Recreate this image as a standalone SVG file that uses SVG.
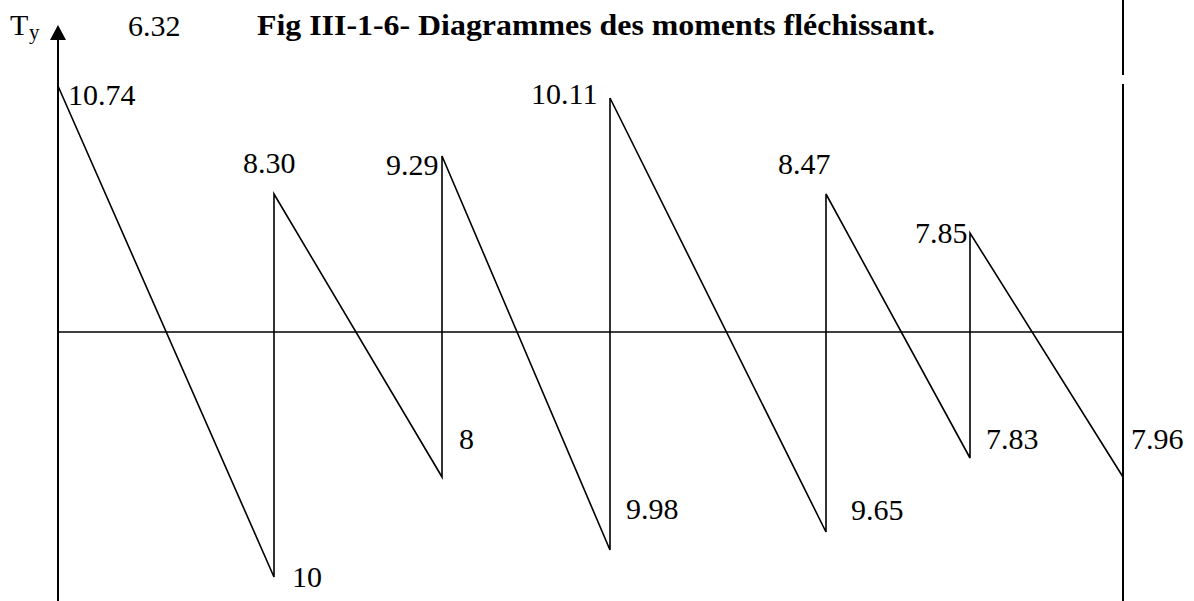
<svg xmlns="http://www.w3.org/2000/svg" width="1194" height="601" viewBox="0 0 1194 601">
<style>
.t{font-family:"Liberation Serif","Times New Roman",serif;font-size:30px;fill:#000}
.b{font-weight:bold}
.ax{stroke:#000;stroke-width:2;fill:none}
.ln{stroke:#000;stroke-width:1.6;fill:none;stroke-linejoin:miter}
</style>
<rect width="1194" height="601" fill="#fff"/>
<g id="axes">
<line class="ax" x1="58" y1="38" x2="58" y2="601"/>
<polygon points="58,25 50,40 66,40" fill="#000"/>
<line class="ln" x1="58" y1="332" x2="1123" y2="332"/>
<line class="ax" x1="1123" y1="0" x2="1123" y2="75"/>
<line class="ax" x1="1123" y1="84" x2="1123" y2="601"/>
</g>
<g id="connectors">
<polyline class="ln" points="58,86 274,577 274,194 442,477 442,156 610,550 610,98 826,532 826,194 970,458 970,233 1123,477"/>
</g>
<g id="labels">
<text class="t" x="10" y="35">T</text>
<text class="t" x="29" y="39" style="font-size:21px">y</text>
<text class="t" x="128" y="36">6.32</text>
<text class="t b" x="257" y="35" textLength="678" lengthAdjust="spacingAndGlyphs">Fig III-1-6- Diagrammes des moments fléchissant.</text>
<text class="t" x="68" y="105">10.74</text>
<text class="t" x="243" y="173">8.30</text>
<text class="t" x="386" y="175">9.29</text>
<text class="t" x="531" y="104">10.11</text>
<text class="t" x="778" y="174">8.47</text>
<text class="t" x="915" y="243">7.85</text>
<text class="t" x="459" y="449">8</text>
<text class="t" x="292" y="587">10</text>
<text class="t" x="626" y="519">9.98</text>
<text class="t" x="851" y="520">9.65</text>
<text class="t" x="986" y="449">7.83</text>
<text class="t" x="1131" y="449">7.96</text>
</g>
</svg>
